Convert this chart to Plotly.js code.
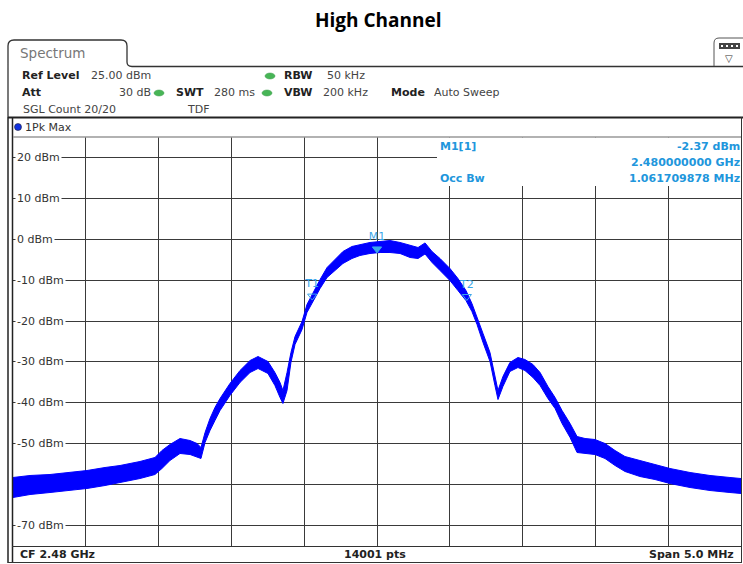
<!DOCTYPE html>
<html>
<head>
<meta charset="utf-8">
<script src="https://cdn.plot.ly/plotly-3.0.1.min.js"></script>
<style>
html,body{margin:0;padding:0;background:#fff;}
#chart{width:743px;height:564px;}
</style>
</head>
<body>
<div id="chart"></div>
<script>
// ---- Data (Max-hold trace envelope) ----
const freqMHz = [2477.500, 2477.617, 2477.754, 2477.891, 2478.008, 2478.132, 2478.235, 2478.372, 2478.475, 2478.523,
  2478.578, 2478.647, 2478.716, 2478.764, 2478.791, 2478.819, 2478.853, 2478.887, 2478.922, 2478.990,
  2479.059, 2479.128, 2479.183, 2479.251, 2479.299, 2479.334, 2479.354, 2479.382, 2479.409, 2479.437,
  2479.485, 2479.519, 2479.560, 2479.609, 2479.657, 2479.712, 2479.766, 2479.828, 2479.883, 2479.952,
  2480.021, 2480.089, 2480.158, 2480.227, 2480.282, 2480.330, 2480.378, 2480.433, 2480.501, 2480.556,
  2480.611, 2480.652, 2480.687, 2480.728, 2480.776, 2480.810, 2480.831, 2480.865, 2480.913, 2480.968,
  2481.016, 2481.071, 2481.120, 2481.174, 2481.223, 2481.271, 2481.326, 2481.374, 2481.429, 2481.497,
  2481.566, 2481.635, 2481.703, 2481.806, 2481.909, 2482.012, 2482.150, 2482.287, 2482.424, 2482.500];
const upperDbm = [-58.25, -57.76, -57.52, -57.03, -56.54, -55.81, -55.32, -54.34, -53.36, -51.65,
  -50.18, -48.72, -49.21, -49.94, -50.92, -47.25, -43.83, -41.14, -38.94, -35.27,
  -32.09, -29.65, -28.67, -29.89, -32.58, -35.02, -36.98, -32.58, -27.69, -23.78,
  -20.11, -15.95, -13.02, -9.84, -6.91, -4.95, -3.00, -1.77, -1.28, -0.79,
  -0.55, -0.31, -0.79, -1.53, -2.02, -0.90, -3.00, -4.71, -7.15, -9.60,
  -12.53, -15.71, -18.89, -23.04, -27.69, -33.56, -36.98, -33.56, -30.13, -28.91,
  -29.40, -30.62, -32.58, -36.00, -38.69, -41.87, -45.05, -48.23, -48.72, -48.96,
  -49.94, -51.65, -53.12, -54.10, -55.07, -56.05, -57.03, -57.76, -58.25, -58.50];
const lowerDbm = [-63.14, -62.41, -61.92, -61.43, -60.94, -60.21, -59.47, -58.50, -57.52, -56.05,
  -54.10, -52.38, -52.63, -53.36, -53.61, -49.69, -46.76, -44.32, -41.87, -38.20,
  -35.02, -32.58, -31.60, -32.82, -35.76, -38.69, -40.16, -36.98, -30.13, -25.73,
  -22.07, -17.91, -15.22, -12.04, -9.35, -7.64, -5.93, -4.71, -3.97, -3.48,
  -3.24, -3.24, -3.48, -4.46, -4.71, -3.60, -5.68, -7.64, -10.09, -12.53,
  -14.98, -17.67, -20.84, -25.24, -29.89, -35.76, -39.18, -36.00, -32.33, -31.36,
  -32.09, -33.80, -35.76, -38.94, -41.38, -45.05, -48.47, -52.14, -52.38, -52.63,
  -53.61, -55.32, -56.78, -58.01, -58.74, -59.72, -60.70, -61.43, -61.92, -62.16];

const markerNames = ['M1', 'T1', 'T2'];
const markerFreq = [2480.000, 2479.555, 2480.617];
const markerLevel = [-2.37, -13.9, -14.0];

const yTickVals = [20, 10, 0, -10, -20, -30, -40, -50, -70];
const yTickText = ['20 dBm', '10 dBm', '0 dBm', '-10 dBm', '-20 dBm', '-30 dBm', '-40 dBm', '-50 dBm', '-70 dBm'];

const markerInfo = [['M1[1]', '-2.37 dBm'], ['', '2.480000000 GHz'], ['Occ Bw', '1.061709878 MHz']];
const footer = ['CF 2.48 GHz', '14001 pts', 'Span 5.0 MHz'];

// ---- Layout helpers (pixel -> paper) ----
const W = 743, H = 564, ML = 13, MR = 2, MT = 137, MB = 18;
const PW = W - ML - MR, PH = H - MT - MB;
const px = x => (x - ML) / PW;
const py = y => (H - MB - y) / PH;

const FONT = 'DejaVu Sans, Verdana, sans-serif';
const BLUE_TXT = '#2196dc';

const traces = [
  {x: freqMHz, y: lowerDbm, mode: 'lines', line: {color: '#0000ff', width: 1}, hoverinfo: 'skip', showlegend: false},
  {x: freqMHz, y: upperDbm, mode: 'lines', fill: 'tonexty', fillcolor: '#0000ff',
   line: {color: '#0000ff', width: 1}, hoverinfo: 'skip', showlegend: false},
  {x: markerFreq, y: markerLevel, mode: 'markers+text', text: markerNames, textposition: 'top center',
   textfont: {family: FONT, size: 11, color: '#3aa6ea'},
   marker: {symbol: ['triangle-down', 'triangle-down-open', 'triangle-down-open'], size: 8, color: '#3aa6ea', line: {color: '#3aa6ea', width: 1}},
   hoverinfo: 'skip', showlegend: false, cliponaxis: false}
];

const ann = [];
const A = (x, y, text, o) => ann.push(Object.assign({xref: 'paper', yref: 'paper', x: px(x), y: py(y), text: text,
  showarrow: false, xanchor: 'left', yanchor: 'middle', font: {family: FONT, size: 11, color: '#222'}}, o || {}));

// title
A(378, 20, '<b>High Channel</b>', {xanchor: 'center', font: {family: 'Open Sans, Liberation Sans, sans-serif', size: 19, color: '#000'}});
// tab text
A(18, 53, 'Spectrum', {font: {family: FONT, size: 13.5, color: '#777'}});
// header
const GREY = {family: FONT, size: 11, color: '#444'};
A(20, 76, '<b>Ref Level</b>');
A(89, 76, '25.00 dBm', {font: GREY});
A(20, 93, '<b>Att</b>');
A(153, 93, '30 dB', {xanchor: 'right', font: GREY});
A(174, 93, '<b>SWT</b>');
A(212, 93, '280 ms', {font: GREY});
A(282, 76, '<b>RBW</b>');
A(325, 76, '50 kHz', {font: GREY});
A(282, 93, '<b>VBW</b>');
A(321, 93, '200 kHz', {font: GREY});
A(389, 93, '<b>Mode</b>');
A(432, 93, 'Auto Sweep', {font: GREY});
A(21, 110, 'SGL Count 20/20', {font: GREY});
A(185, 110, 'TDF', {font: GREY});
A(23, 127, '1Pk Max', {font: {family: FONT, size: 11, color: '#333'}});
// marker info
A(438, 146, '<b>' + markerInfo[0][0] + '</b>', {font: {family: FONT, size: 11, color: BLUE_TXT}});
A(742, 146, '<b>' + markerInfo[0][1] + '</b>', {xanchor: 'right', font: {family: FONT, size: 11, color: BLUE_TXT}});
A(742, 162, '<b>' + markerInfo[1][1] + '</b>', {xanchor: 'right', font: {family: FONT, size: 11, color: BLUE_TXT}});
A(438, 178, '<b>' + markerInfo[2][0] + '</b>', {font: {family: FONT, size: 11, color: BLUE_TXT}});
A(742, 178, '<b>' + markerInfo[2][1] + '</b>', {xanchor: 'right', font: {family: FONT, size: 11, color: BLUE_TXT}});
// footer
A(18, 554, '<b>' + footer[0] + '</b>', {font: {family: FONT, size: 11, color: '#222'}});
A(375, 554, '<b>' + footer[1] + '</b>', {xanchor: 'center', font: {family: FONT, size: 11, color: '#222'}});
A(736, 554, '<b>' + footer[2] + '</b>', {xanchor: 'right', font: {family: FONT, size: 11, color: '#222'}});
// icon triangle
A(729, 58, '▽', {xanchor: 'center', font: {family: FONT, size: 10, color: '#333'}});

// y tick labels inside the plot with white background
yTickVals.forEach((v, i) => {
  ann.push({xref: 'paper', yref: 'y', x: px(15), y: v, text: yTickText[i], showarrow: false,
    xanchor: 'left', yanchor: 'middle', bgcolor: '#fff', borderpad: 1,
    font: {family: FONT, size: 11, color: '#333'}});
});

const shapes = [];
const L = (x0, y0, x1, y1, color, width) => shapes.push({type: 'line', xref: 'paper', yref: 'paper',
  x0: px(x0), y0: py(y0), x1: px(x1), y1: py(y1), line: {color: color, width: width}, layer: 'above'});

// tab outline
shapes.push({type: 'path', xref: 'paper', yref: 'paper', layer: 'above',
  path: `M ${px(8)} ${py(117)} L ${px(8)} ${py(46)} Q ${px(8)} ${py(40)} ${px(14)} ${py(40)} L ${px(121)} ${py(40)} Q ${px(127)} ${py(40)} ${px(127)} ${py(46)} L ${px(127)} ${py(62)} Q ${px(127)} ${py(66.5)} ${px(132)} ${py(66.5)} L ${px(743)} ${py(66.5)}`,
  line: {color: '#333', width: 1.3}});
// icon box
shapes.push({type: 'path', xref: 'paper', yref: 'paper', layer: 'above',
  path: `M ${px(714)} ${py(66)} L ${px(714)} ${py(43)} Q ${px(714)} ${py(38)} ${px(719)} ${py(38)} L ${px(743)} ${py(38)}`,
  line: {color: '#555', width: 1}});
shapes.push({type: 'rect', xref: 'paper', yref: 'paper', layer: 'above',
  x0: px(719), x1: px(740), y0: py(43), y1: py(49), fillcolor: '#444', line: {width: 0}});
[722, 727, 732, 737].forEach(x => shapes.push({type: 'rect', xref: 'paper', yref: 'paper', layer: 'above',
  x0: px(x - 1), x1: px(x + 1), y0: py(45), y1: py(47), fillcolor: '#fff', line: {width: 0}}));

// white box behind marker info (hides grid)
shapes.push({type: 'rect', xref: 'paper', yref: 'paper', layer: 'above',
  x0: px(437), x1: px(741), y0: py(137.5), y1: py(186), fillcolor: '#fff', line: {width: 0}});

// frame lines
L(8, 117.5, 743, 117.5, '#222', 2);
L(12.5, 117, 12.5, 563, '#222', 1.5);
L(8, 117, 8, 563, '#222', 1.5);
L(13, 137, 741, 137, '#999', 1.5);
L(741.5, 117, 741.5, 563, '#333', 1);
L(12, 546.5, 742, 546.5, '#333', 1.2);
L(8, 562.5, 742, 562.5, '#333', 1.2);
// 1Pk Max dot
shapes.push({type: 'circle', xref: 'paper', yref: 'paper', layer: 'above',
  x0: px(14.5), x1: px(21.5), y0: py(123.5), y1: py(130.5), fillcolor: '#1030e0', line: {color: '#223', width: 0.6}});
// green status dots (ovals)
[[159, 93], [270, 76], [267, 93]].forEach(d => shapes.push({type: 'circle', xref: 'paper', yref: 'paper', layer: 'above',
  x0: px(d[0] - 5), x1: px(d[0] + 5), y0: py(d[1] - 3), y1: py(d[1] + 3), fillcolor: '#47b556', line: {color: '#3a9a48', width: 0.5}}));

const layout = {
  width: W, height: H,
  margin: {l: ML, r: MR, t: MT, b: MB, pad: 0},
  paper_bgcolor: '#fff', plot_bgcolor: '#fff',
  showlegend: false,
  xaxis: {range: [2477.5, 2482.5], dtick: 0.5, tick0: 2477.5, showgrid: true, gridcolor: '#3a3a3a', gridwidth: 1,
    showticklabels: false, ticks: '', zeroline: false, showline: false, fixedrange: true},
  yaxis: {range: [-75, 25], dtick: 10, tick0: -70, showgrid: true, gridcolor: '#3a3a3a', gridwidth: 1,
    showticklabels: false, ticks: '', zeroline: false, showline: false, fixedrange: true},
  annotations: ann,
  shapes: shapes
};

Plotly.newPlot('chart', traces, layout, {staticPlot: true, displayModeBar: false});
</script>
</body>
</html>
